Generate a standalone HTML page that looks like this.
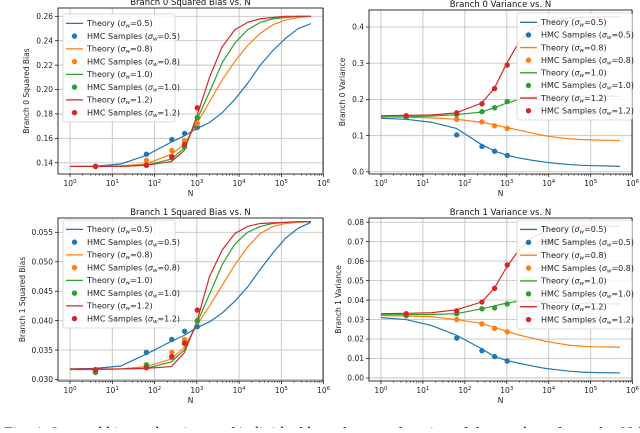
<!DOCTYPE html>
<html><head><meta charset="utf-8"><style>
body{margin:0;background:#fff;width:640px;height:428px;overflow:hidden;font-family:"Liberation Sans",sans-serif}
</style></head><body>
<svg id="fig" width="640" height="428" viewBox="0 0 640 428" xmlns="http://www.w3.org/2000/svg">
<text x="4" y="438" style="font-family:'Liberation Serif',serif;font-size:16px" fill="#000">Fig. 4: Squared bias and variance of individual branches as a function of the number of samples N for different</text>
</svg>
<script>
const logN=[0,0.6,1.2,1.8,2.4,2.7,3.0,3.3,3.6,3.9,4.2,4.5,4.8,5.1,5.4,5.7];
const sampleN=[4,64,256,512,1024];
const sigmas=['0.5','0.8','1.0','1.2'];
const colors=['#1f77b4','#ff7f0e','#2ca02c','#d62728'];
// Branch 0 squared bias
const bias0Theory=[
[0.137,0.1372,0.139,0.146,0.157,0.162,0.168,0.173,0.181,0.192,0.205,0.220,0.232,0.242,0.250,0.254],
[0.137,0.137,0.1375,0.139,0.147,0.155,0.172,0.190,0.208,0.223,0.236,0.246,0.253,0.257,0.259,0.260],
[0.137,0.137,0.137,0.138,0.143,0.152,0.175,0.198,0.222,0.238,0.249,0.255,0.258,0.259,0.26,0.26],
[0.137,0.137,0.137,0.138,0.141,0.150,0.178,0.210,0.235,0.249,0.255,0.258,0.259,0.26,0.26,0.26]];
const bias0Samples=[[0.137,0.147,0.159,0.164,0.169],[0.137,0.142,0.150,0.158,0.172],[0.137,0.138,0.144,0.153,0.177],[0.137,0.138,0.145,0.155,0.185]];
// Branch 0 variance
const var0Theory=[
[0.148,0.145,0.137,0.12,0.075,0.058,0.046,0.038,0.032,0.027,0.023,0.02,0.018,0.017,0.016,0.015],
[0.152,0.151,0.149,0.145,0.137,0.13,0.122,0.115,0.107,0.1,0.095,0.091,0.089,0.088,0.087,0.087],
[0.152,0.152,0.154,0.158,0.165,0.177,0.19,0.2,0.207,0.21,0.21,0.209,0.209,0.209,0.209,0.209],
[0.155,0.156,0.157,0.163,0.19,0.23,0.3,0.36,0.395,0.412,0.42,0.425,0.427,0.428,0.428,0.428]];
const var0Samples=[[0.15,0.102,0.07,0.057,0.045],[0.152,0.145,0.138,0.127,0.12],[0.152,0.158,0.166,0.177,0.194],[0.155,0.163,0.188,0.23,0.295]];
// Branch 1 squared bias
const bias1Theory=[
[0.0318,0.0319,0.0323,0.0343,0.0365,0.0375,0.0388,0.0398,0.0413,0.0433,0.0457,0.0487,0.0515,0.054,0.0557,0.0567],
[0.0317,0.0317,0.0318,0.0322,0.0335,0.0355,0.0392,0.0425,0.046,0.0495,0.0525,0.0548,0.056,0.0565,0.0567,0.0568],
[0.0317,0.0317,0.0318,0.0319,0.033,0.035,0.0395,0.0445,0.0495,0.053,0.055,0.056,0.0565,0.0567,0.0568,0.0568],
[0.0318,0.0318,0.0318,0.0319,0.0322,0.0345,0.0398,0.0475,0.052,0.0548,0.056,0.0565,0.0566,0.0567,0.0568,0.0568]];
const bias1Samples=[[0.0317,0.0346,0.0368,0.0382,0.039],[0.0315,0.0323,0.0346,0.0368,0.0398],[0.0312,0.0325,0.0338,0.0361,0.040],[0.0316,0.0320,0.0339,0.0362,0.0418]];
// Branch 1 variance
const var1Theory=[
[0.031,0.030,0.027,0.022,0.015,0.011,0.009,0.0075,0.0062,0.005,0.0042,0.0035,0.003,0.0028,0.0027,0.0026],
[0.032,0.0318,0.0315,0.030,0.028,0.026,0.024,0.022,0.0205,0.019,0.0178,0.0168,0.0163,0.016,0.0159,0.0158],
[0.0325,0.0325,0.0326,0.033,0.0355,0.037,0.0385,0.0395,0.0395,0.039,0.0388,0.0385,0.0383,0.0382,0.038,0.038],
[0.033,0.0332,0.0335,0.035,0.039,0.046,0.057,0.066,0.072,0.075,0.077,0.0778,0.078,0.078,0.078,0.078]];
const var1Samples=[[0.032,0.0205,0.014,0.011,0.0087],[0.032,0.030,0.0278,0.0255,0.0237],[0.0322,0.033,0.0355,0.036,0.038],[0.033,0.0345,0.039,0.046,0.058]];
const bias0Ticks=[0.14,0.16,0.18,0.20,0.22,0.24,0.26];
const var0Ticks=[0.0,0.1,0.2,0.3,0.4];
const bias1Ticks=[0.030,0.035,0.040,0.045,0.050,0.055];
const var1Ticks=[0.00,0.01,0.02,0.03,0.04,0.05,0.06,0.07,0.08];

const NS='http://www.w3.org/2000/svg';
const svg=document.getElementById('fig');
const FF="font-family:'DejaVu Sans','Liberation Sans',sans-serif;";
function mk(tag,attrs,parent){const e=document.createElementNS(NS,tag);for(const k in attrs)e.setAttribute(k,attrs[k]);(parent||svg).appendChild(e);return e;}

function panel(cfg){
  const g=mk('g',{style:FF});
  
  
  const L=cfg.box[0],T=cfg.box[1],R=cfg.box[2],B=cfg.box[3];
  const xs=v=>L+(v-(-0.285))/(5.985+0.285)*(R-L);
  const ys=v=>B-(v-cfg.ymin)/(cfg.ymax-cfg.ymin)*(B-T);
  for(let d=0;d<=6;d++){const x=xs(d);mk('line',{x1:x,x2:x,y1:T,y2:B,stroke:'#c4c4c4','stroke-width':0.9},g);}
  cfg.ticks.forEach(t=>{const y=ys(t);mk('line',{x1:L,x2:R,y1:y,y2:y,stroke:'#c4c4c4','stroke-width':0.9},g);});
  for(let d=0;d<=6;d++){const x=xs(d);mk('line',{x1:x,x2:x,y1:B,y2:B+3,stroke:'#000','stroke-width':0.7},g);
    const t=mk('text',{x:x,y:B+12,'font-size':7.5,'text-anchor':'middle',fill:'#222'},g);t.textContent='10';
    const s=mk('tspan',{dy:-3,'font-size':5.5},t);s.textContent=String(d);
    
    if(d<6)for(let m=2;m<=9;m++){const xm=xs(d+Math.log10(m));mk('line',{x1:xm,x2:xm,y1:B,y2:B+1.8,stroke:'#000','stroke-width':0.5},g);}
  }
  cfg.ticks.forEach(t=>{const y=ys(t);mk('line',{x1:L-3,x2:L,y1:y,y2:y,stroke:'#000','stroke-width':0.7},g);
    const tx=mk('text',{x:L-5,y:y+2.7,'font-size':7.5,'text-anchor':'end',fill:'#222'},g);tx.textContent=t.toFixed(cfg.dec);
    });
  const cid='c'+cfg.name;const cp=mk('clipPath',{id:cid},g);mk('rect',{x:L,y:T,width:R-L,height:B-T},cp);
  const pg=mk('g',{'clip-path':'url(#'+cid+')'},g);
  cfg.theory.forEach((arr,i)=>{const p=mk('polyline',{points:arr.map((v,j)=>xs(logN[j])+','+ys(v)).join(' '),fill:'none',stroke:colors[i],'stroke-width':1.2},pg);
    });
  cfg.samples.forEach((arr,i)=>arr.forEach((v,j)=>{const c=mk('circle',{cx:xs(Math.log10(sampleN[j])),cy:ys(v),r:2.7,fill:colors[i]},pg);
    }));
  mk('rect',{x:L,y:T,width:R-L,height:B-T,fill:'none',stroke:'#000','stroke-width':0.8},g);
  const ti=mk('text',{x:(L+R)/2,y:T-3,'font-size':8.5,'text-anchor':'middle',fill:'#111'},g);ti.textContent=cfg.title;
  
  const xl=mk('text',{x:(L+R)/2,y:B+22,'font-size':7.5,'text-anchor':'middle',fill:'#222'},g);xl.textContent='N';
  
  const yl=mk('text',{x:0,y:0,'font-size':7.5,'text-anchor':'middle',fill:'#222',transform:'translate('+cfg.ylx+','+(T+B)/2+') rotate(-90)'},g);yl.textContent=cfg.ylabel;
  
  const lx=cfg.leg[0],ly=cfg.leg[1],lw=cfg.leg[2],lh=cfg.leg[3];
  const lg=mk('g',{},g);
  mk('rect',{x:lx,y:ly,width:lw,height:lh,rx:2,fill:'#fff','fill-opacity':0.85,stroke:'#d0d0d0','stroke-width':0.8},lg);
  const step=(lh-6)/8;
  for(let i=0;i<4;i++)for(let k=0;k<2;k++){
    const yy=ly+3+step*(2*i+k)+step/2;
    const eg=mk('g',{},lg);
    if(k==0)mk('line',{x1:lx+3,x2:lx+20,y1:yy,y2:yy,stroke:colors[i],'stroke-width':1.3},eg);
    else mk('circle',{cx:lx+11.5,cy:yy,r:2.7,fill:colors[i]},eg);
    const t=mk('text',{x:lx+24,y:yy+2.8,'font-size':8,fill:'#222'},eg);
    t.appendChild(document.createTextNode(k==0?'Theory (':'HMC Samples ('));
    const s1=mk('tspan',{'font-style':'italic'},t);s1.textContent='σ';
    const s2=mk('tspan',{'font-size':5.5,dy:1.5,'font-style':'italic'},t);s2.textContent='w';
    const s3=mk('tspan',{dy:-1.5},t);s3.textContent='='+sigmas[i]+')';
  }
}
panel({name:'branch0-bias-chart',box:[58,8,323,174],ymin:0.1308,ymax:0.2668,ticks:bias0Ticks,dec:2,theory:bias0Theory,samples:bias0Samples,title:'Branch 0 Squared Bias vs. N',ylabel:'Branch 0 Squared Bias',ylx:29,leg:[63,14,112,108]});
panel({name:'branch0-variance-chart',box:[369,10,632,174],ymin:-0.006,ymax:0.447,ticks:var0Ticks,dec:1,theory:var0Theory,samples:var0Samples,title:'Branch 0 Variance vs. N',ylabel:'Branch 0 Variance',ylx:345,leg:[517,13,115,107]});
panel({name:'branch1-bias-chart',box:[58,218,323,381],ymin:0.02975,ymax:0.05743,ticks:bias1Ticks,dec:3,theory:bias1Theory,samples:bias1Samples,title:'Branch 1 Squared Bias vs. N',ylabel:'Branch 1 Squared Bias',ylx:25,leg:[63,220,112,108]});
panel({name:'branch1-variance-chart',box:[369,218,632,381],ymin:-0.00154,ymax:0.08213,ticks:var1Ticks,dec:2,theory:var1Theory,samples:var1Samples,title:'Branch 1 Variance vs. N',ylabel:'Branch 1 Variance',ylx:341,leg:[517,220,115,109]});
</script>
</body></html>
